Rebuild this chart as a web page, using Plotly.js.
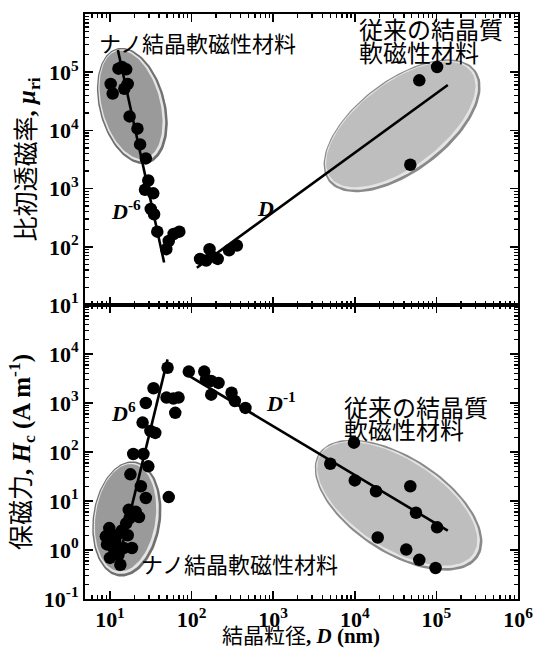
<!DOCTYPE html>
<html><head><meta charset="utf-8">
<script src="https://cdn.plot.ly/plotly-3.0.1.min.js"></script>
<style>body{margin:0;background:#fff}#c{width:540px;height:650px}</style>
</head><body><div id="c"></div>
<script>
// ---------- DATA ----------
// Top panel: initial relative permeability vs grain size D (nm)
const muD = [10.2,10.8,12.7,14.0,15.8,15.0,16.5,17.4,21.7,23.4,27.5,29.5,26.9,33.9,31.6,34.7,38.0,49.0,52.5,60.3,70.8,
             127,151,166,178,209,288,359,
             61700,102000,47900];
const muVal = [63000,43000,115000,123000,112000,52000,63000,17400,10700,5750,3300,1380,955,830,447,363,182,91,126,166,182,
               62,58,91,68,62,87,105,
               72400,123000,2570];
// fitted lines (top)
const muFitNegD = [12.5, 46.1];
const muFitNegV = [240000, 53.7];
const muFitPosD = [116, 138000];
const muFitPosV = [43.6, 60300];

// Bottom panel: coercivity vs grain size D (nm)
const hcD = [50.8,34.2,27.5,49.3,59.8,69.2,63.1,25.1,31.3,35.9,19.3,25.7,29.5,17.8,23.9,27.5,52.5,17.0,20.7,22.7,
             17.5,15.8,12.1,9.8,10.2,14.0,16.5,18.6,11.0,9.2,10.0,12.7,13.4,11.6,14.7,8.9,
             92.5,143,150,174,214,174,309,339,457,
             5010,9770,10000,18200,47900,56200,102000,19100,42700,61700,97700];
const hcVal = [5250,2000,1000,1290,1230,1290,631,398,269,245,91,91,51,35,20,11.5,12.0,6.6,6.0,4.7,
               4.5,3.5,2.0,2.8,1.8,2.5,2.0,1.1,1.1,1.3,0.69,0.79,0.50,1.5,1.1,1.9,
               4370,4370,3020,2820,2570,1480,1620,1100,794,
               57.5,155,26.3,15.8,20,5.75,2.9,1.8,1.02,0.63,0.43];
const hcFitPosD = [12.1, 50.8];
const hcFitPosV = [0.43, 7760];
const hcFitNegD = [88, 138000];
const hcFitNegV = [3800, 2.48];

// tick labels
const xTickVals = [10,100,1e3,1e4,1e5,1e6];
const xTickText = ['10<sup>1</sup>','10<sup>2</sup>','10<sup>3</sup>','10<sup>4</sup>','10<sup>5</sup>','10<sup>6</sup>'];
const yTopTickVals = [10,100,1e3,1e4,1e5,1e6];
const yTopTickText = ['10<sup>1</sup>','10<sup>2</sup>','10<sup>3</sup>','10<sup>4</sup>','10<sup>5</sup>','10<sup>6</sup>'];
const yBotTickVals = [0.1,1,10,100,1e3,1e4];
const yBotTickText = ['10<sup>-1</sup>','10<sup>0</sup>','10<sup>1</sup>','10<sup>2</sup>','10<sup>3</sup>','10<sup>4</sup>'];

// ---------- GEOMETRY / STYLE ----------
const L = 85, R = 22, T = 14, B = 51, W = 540, H = 650;
const plotW = W - L - R, plotH = H - T - B;
const xRange = [0.694, 6];
const yTopRange = [1, 6], yBotRange = [-1, 5];
const botFrac = 294 / plotH;
const pxPerDecX = plotW / (xRange[1] - xRange[0]);
const pxPerDecTop = plotH * (1 - botFrac) / (yTopRange[1] - yTopRange[0]);
const pxPerDecBot = plotH * botFrac / (yBotRange[1] - yBotRange[0]);

// decorative ellipses: centre (data units), semi-axes (px), angle (deg)
const ellipses = [
  {ax:'top', cx:18.8,  cy:26300, a:59.5, b:33, ang:105, body:'#9a9a9a', rim:'#707070'},
  {ax:'top', cx:38000, cy:12000, a:92,   b:46, ang:37,  body:'#bebebe', rim:'#8a8a8a'},
  {ax:'bot', cx:16.1,  cy:4.3,   a:58,   b:34, ang:82,  body:'#9a9a9a', rim:'#707070'},
  {ax:'bot', cx:34400, cy:8.2,   a:95,   b:48, ang:-33, body:'#bebebe', rim:'#8a8a8a'}
];

function ellipseTrace(e, da, db, ox, oy, color) {
  const ppy = e.ax === 'top' ? pxPerDecTop : pxPerDecBot;
  const phi = e.ang * Math.PI / 180;
  const xs = [], ys = [];
  for (let i = 0; i <= 120; i++) {
    const t = 2 * Math.PI * i / 120;
    const u = (e.a + da) * Math.cos(t), v = (e.b + db) * Math.sin(t);
    const dx = u * Math.cos(phi) - v * Math.sin(phi) + ox;
    const dy = u * Math.sin(phi) + v * Math.cos(phi) + oy;
    xs.push(e.cx * Math.pow(10, dx / pxPerDecX));
    ys.push(e.cy * Math.pow(10, dy / ppy));
  }
  return {x: xs, y: ys, type: 'scatter', mode: 'lines', fill: 'toself',
          fillcolor: color, line: {width: 0, color: color}, hoverinfo: 'skip',
          xaxis: e.ax === 'top' ? 'x2' : 'x', yaxis: e.ax === 'top' ? 'y2' : 'y', showlegend: false};
}

const traces = [];
ellipses.forEach(e => {
  traces.push(ellipseTrace(e, 0, 0, 0, 0, e.rim));
  traces.push(ellipseTrace(e, -2, -2, -0.6, 0.6, '#e4e4e4'));
  traces.push(ellipseTrace(e, -4, -4, -1.3, 1.3, e.body));
});

const lineStyle = {color: '#000', width: 2.6};
const mk = {color: '#000', size: 12.5, line: {width: 0}};
traces.push({x: muFitNegD, y: muFitNegV, mode: 'lines', line: lineStyle, xaxis: 'x2', yaxis: 'y2', showlegend: false});
traces.push({x: muFitPosD, y: muFitPosV, mode: 'lines', line: lineStyle, xaxis: 'x2', yaxis: 'y2', showlegend: false});
traces.push({x: muD, y: muVal, mode: 'markers', marker: mk, xaxis: 'x2', yaxis: 'y2', showlegend: false});
traces.push({x: hcFitPosD, y: hcFitPosV, mode: 'lines', line: lineStyle, xaxis: 'x', yaxis: 'y', showlegend: false});
traces.push({x: hcFitNegD, y: hcFitNegV, mode: 'lines', line: lineStyle, xaxis: 'x', yaxis: 'y', showlegend: false});
traces.push({x: hcD, y: hcVal, mode: 'markers', marker: mk, xaxis: 'x', yaxis: 'y', showlegend: false});

function minorVals(lo, hi) {
  const v = [];
  for (let k = lo; k < hi; k++) for (let m = 2; m <= 9; m++) v.push(m * Math.pow(10, k));
  return v;
}
const tickFont = {family: 'Liberation Serif, serif', size: 22, color: '#000', weight: 'bold'};
const common = {
  type: 'log', showgrid: false, zeroline: false, showline: true, linecolor: '#000', linewidth: 2,
  mirror: 'allticks', ticks: 'inside', ticklen: 8, tickwidth: 1.6, tickcolor: '#000',
  tickfont: tickFont,
};
const cjk = 'Liberation Serif, Noto Sans CJK JP, serif';
const minorStyle = {ticks: 'inside', ticklen: 4, tickwidth: 1.3, tickcolor: '#000', showgrid: false};

const layout = {
  width: W, height: H, margin: {l: L, r: R, t: T, b: B},
  paper_bgcolor: '#fff', plot_bgcolor: 'rgba(0,0,0,0)', showlegend: false,
  xaxis: Object.assign({}, common, {
    domain: [0, 1], range: xRange, anchor: 'y', tickmode: 'array', tickvals: xTickVals, ticktext: xTickText,
    minor: Object.assign({tickmode: 'array', tickvals: minorVals(0, 6)}, minorStyle)
  }),
  xaxis2: Object.assign({}, common, {
    domain: [0, 1], range: xRange, anchor: 'y2', matches: 'x', showticklabels: false, tickmode: 'array', tickvals: xTickVals,
    minor: Object.assign({tickmode: 'array', tickvals: minorVals(0, 6)}, minorStyle)
  }),
  yaxis: Object.assign({}, common, {
    domain: [0, botFrac], range: yBotRange, anchor: 'x', tickmode: 'array', tickvals: yBotTickVals, ticktext: yBotTickText,
    minor: Object.assign({tickmode: 'array', tickvals: minorVals(-1, 5)}, minorStyle),
    title: {text: '保磁力<b>, <i>H</i><sub>c</sub> (A m<sup>-1</sup>)</b>', font: {family: cjk, size: 25, color: '#000'}, standoff: 6}
  }),
  yaxis2: Object.assign({}, common, {
    domain: [botFrac, 1], range: yTopRange, anchor: 'x2', tickmode: 'array', tickvals: yTopTickVals, ticktext: yTopTickText,
    minor: Object.assign({tickmode: 'array', tickvals: minorVals(1, 6)}, minorStyle),
    title: {text: '比初透磁率<b>, <i>μ</i><sub>ri</sub></b>', font: {family: cjk, size: 25, color: '#000'}, standoff: 6}
  }),
  annotations: []
};

function px2paperX(px) { return (px - L) / plotW; }
function px2paperY(py) { return (H - B - py) / plotH; }
const cjkFont = (s) => ({family: 'Noto Sans CJK JP, sans-serif', size: s, color: '#000'});
const dFont = {family: 'Liberation Serif, serif', size: 22, color: '#000'};
function ann(text, px, py, font, xanchor) {
  layout.annotations.push({text: text, xref: 'paper', yref: 'paper', x: px2paperX(px), y: px2paperY(py),
    xanchor: xanchor || 'center', yanchor: 'middle', showarrow: false, font: font});
}
// x-axis title (placed as annotation for exact vertical position)
ann('結晶粒径<b>, <i>D</i> (nm)</b>', 301, 636, {family: cjk, size: 21, color: '#000'});
ann('ナノ結晶軟磁性材料', 97, 42, cjkFont(22), 'left');
ann('従来の結晶質', 357, 28, cjkFont(24), 'left');
ann('軟磁性材料', 357, 51, cjkFont(24), 'left');
ann('ナノ結晶軟磁性材料', 139, 563, cjkFont(22), 'left');
ann('従来の結晶質', 342, 406, cjkFont(24), 'left');
ann('軟磁性材料', 342, 429, cjkFont(24), 'left');
ann('<b><i>D</i><sup>-6</sup></b>', 126, 210, dFont);
ann('<b><i>D</i></b>', 265, 208, dFont);
ann('<b><i>D</i><sup>6</sup></b>', 123, 412, dFont);
ann('<b><i>D</i><sup>-1</sup></b>', 281, 402, dFont);

Plotly.newPlot('c', traces, layout, {staticPlot: true, displayModeBar: false});
</script>
</body></html>
